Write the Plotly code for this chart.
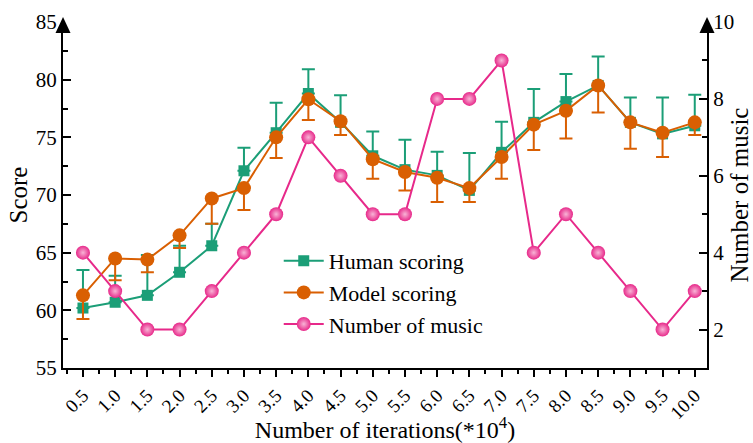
import plotly.graph_objects as go

# Training iterations (x 10^4)
iterations = [0.5, 1.0, 1.5, 2.0, 2.5, 3.0, 3.5, 4.0, 4.5, 5.0,
              5.5, 6.0, 6.5, 7.0, 7.5, 8.0, 8.5, 9.0, 9.5, 10.0]
tick_labels = [f"{v:.1f}" for v in iterations]

# Human scoring: mean and upper error
human_score = [60.2, 60.7, 61.3, 63.3, 65.6, 72.1, 75.4, 78.8, 76.3, 73.4,
               72.2, 71.7, 70.4, 73.7, 76.3, 78.1, 79.5, 76.3, 75.3, 76.0]
human_err = [3.3, 2.3, 3.5, 2.3, 1.9, 2.0, 2.6, 2.1, 2.35, 2.1,
             2.6, 2.05, 3.25, 2.65, 2.9, 2.4, 2.5, 2.15, 3.15, 2.7]

# Model scoring: mean and lower error
model_score = [61.3, 64.5, 64.4, 66.5, 69.7, 70.6, 75.0, 78.3, 76.4, 73.1,
               72.0, 71.5, 70.6, 73.3, 76.1, 77.3, 79.5, 76.3, 75.4, 76.3]
model_err = [2.05, 1.9, 1.1, 1.1, 2.2, 1.9, 1.8, 1.8, 1.2, 1.7,
             1.6, 2.1, 1.2, 1.9, 2.2, 2.4, 2.35, 2.3, 2.1, 1.1]

# Number of generated music pieces
music_count = [4, 3, 2, 2, 3, 4, 5, 7, 6, 5, 5, 8, 8, 9, 4, 5, 4, 3, 2, 3]

GREEN = "#1b9e77"
ORANGE = "#d95f02"
PINK = "#e7298a"
FONT = "Liberation Serif, Times New Roman, serif"

W, H = 753, 443
ML, MR, MT, MB = 63, 46, 22, 75
PW, PH = W - ML - MR, H - MT - MB

fig = go.Figure()

fig.add_trace(go.Scatter(
    x=iterations, y=human_score, name="Human scoring",
    mode="lines+markers",
    line=dict(color=GREEN, width=2),
    marker=dict(symbol="square", size=11, color=GREEN),
    error_y=dict(type="data", symmetric=False, array=human_err,
                 arrayminus=[0] * len(human_err),
                 color=GREEN, thickness=2, width=6.5),
))

fig.add_trace(go.Scatter(
    x=iterations, y=model_score, name="Model scoring",
    mode="lines+markers",
    line=dict(color=ORANGE, width=2),
    marker=dict(symbol="circle", size=14, color=ORANGE),
    error_y=dict(type="data", symmetric=False, array=[0] * len(model_err),
                 arrayminus=model_err,
                 color=ORANGE, thickness=2, width=6.5),
))

fig.add_trace(go.Scatter(
    x=iterations, y=music_count, name="Number of music",
    yaxis="y2", mode="lines+markers",
    line=dict(color=PINK, width=2),
    marker=dict(symbol="circle", size=14, color=PINK,
                gradient=dict(type="radial", color="#f8b4d6")),
))

# Arrow heads at the top of both vertical axes (paper coordinates)
def arrow_path(xp):
    hw = 7.5 / PW
    y_tip = 1 + 5 / PH
    y_base = 1 - 11 / PH
    return f"M {xp - hw},{y_base} L {xp},{y_tip} L {xp + hw},{y_base} Z"

shapes = [
    dict(type="path", xref="paper", yref="paper", path=arrow_path(0),
         fillcolor="black", line=dict(width=0), layer="above"),
    dict(type="path", xref="paper", yref="paper", path=arrow_path(1),
         fillcolor="black", line=dict(width=0), layer="above"),
]

fig.update_layout(
    width=W, height=H,
    margin=dict(l=ML, r=MR, t=MT, b=MB, autoexpand=False),
    paper_bgcolor="white", plot_bgcolor="white",
    font=dict(family=FONT, size=21, color="black"),
    showlegend=True,
    legend=dict(x=0.335, y=0.37, xanchor="left", yanchor="top",
                bgcolor="rgba(0,0,0,0)", font=dict(family=FONT, size=22),
                tracegroupgap=0, itemwidth=40),
    shapes=shapes,
    xaxis=dict(
        range=[0.19, 10.19], automargin=False,
        tickmode="array", tickvals=iterations, ticktext=tick_labels,
        tickangle=-45,
        ticks="outside", ticklen=7, tickwidth=2, tickcolor="black",
        minor=dict(tick0=0.25, dtick=0.5, ticks="outside", ticklen=4,
                   tickwidth=2, tickcolor="black"),
        showline=True, linecolor="black", linewidth=2,
        showgrid=False, zeroline=False,
        tickfont=dict(size=19),
        title=dict(text="Number of iterations(*10<sup>4</sup>)",
                   font=dict(size=24), standoff=0),
    ),
    yaxis=dict(
        range=[55, 85], tickmode="linear", tick0=55, dtick=5,
        automargin=False,
        ticks="inside", ticklen=8, tickwidth=2, tickcolor="black",
        minor=dict(dtick=2.5, ticks="inside", ticklen=5, tickwidth=2,
                   tickcolor="black"),
        showline=True, linecolor="black", linewidth=2,
        showgrid=False, zeroline=False,
        tickfont=dict(size=21),
        title=dict(text="Score", font=dict(size=25), standoff=1),
    ),
    yaxis2=dict(
        overlaying="y", side="right", automargin=False,
        range=[1, 10], tickmode="array", tickvals=[2, 4, 6, 8, 10],
        ticks="inside", ticklen=8, tickwidth=2, tickcolor="black",
        minor=dict(tickmode="array", tickvals=[3, 5, 7, 9], ticks="inside",
                   ticklen=5, tickwidth=2, tickcolor="black"),
        showline=True, linecolor="black", linewidth=2,
        showgrid=False, zeroline=False,
        tickfont=dict(size=21),
        title=dict(text="Number of music", font=dict(size=25), standoff=6),
    ),
)

fig.write_html("out.html")
